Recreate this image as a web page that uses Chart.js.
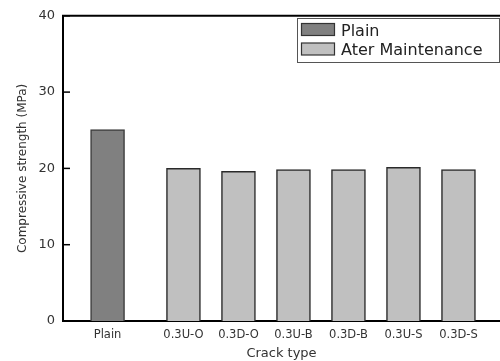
<!DOCTYPE html>
<html>
<head>
<meta charset="utf-8">
<script src="https://cdn.jsdelivr.net/npm/chart.js@4.4.1/dist/chart.umd.min.js"></script>
<style>
  html, body { margin: 0; padding: 0; background: #fff; }
  #wrap { width: 500px; height: 361px; }
</style>
</head>
<body>
<div id="wrap"><canvas id="crackChart" width="500" height="361"></canvas></div>
<script>
// Dados do gráfico
const categories = ["Plain", "0.3U-O", "0.3D-O", "0.3U-B", "0.3D-B", "0.3U-S", "0.3D-S"];
const plainValues = [25.1];
const maintValues = [20.0, 19.6, 19.85, 19.85, 20.15, 19.85];
const yTicks = [0, 10, 20, 30, 40];
const seriesLabels = ["Plain", "Ater Maintenance"];

// Posição no eixo x: "Plain" fica separado das outras barras por um espaço maior
const GAP = 0.38;
const pos = i => (i === 0 ? 0 : i + GAP);

const FONT = "'DejaVu Sans', sans-serif";

// Marcas de escala para dentro, linha superior e legenda com moldura
const framePlugin = {
  id: "frame",
  afterDraw(chart) {
    const ctx = chart.ctx;
    const area = chart.chartArea;
    const y = chart.scales.y;
    ctx.save();
    ctx.strokeStyle = "#000";
    ctx.lineWidth = 2;
    ctx.beginPath();
    ctx.moveTo(area.left - 1, area.top);
    ctx.lineTo(area.right, area.top);
    ctx.stroke();
    ctx.lineWidth = 1.5;
    yTicks.forEach(v => {
      const py = y.getPixelForValue(v);
      ctx.beginPath();
      ctx.moveTo(area.left, py);
      ctx.lineTo(area.left + 7, py);
      ctx.stroke();
    });

    // legenda
    const lx = 297.5, ly = 18.5, lw = 202, lh = 44;
    ctx.lineWidth = 1;
    ctx.strokeStyle = "#555";
    ctx.strokeRect(lx, ly, lw, lh);
    ctx.font = "16px " + FONT;
    ctx.textBaseline = "alphabetic";
    chart.data.datasets.forEach((ds, k) => {
      const sy = ly + 5 + k * 19.5;
      ctx.fillStyle = ds.backgroundColor;
      ctx.fillRect(lx + 4, sy, 33, 12);
      ctx.strokeStyle = "#333";
      ctx.lineWidth = 1.2;
      ctx.strokeRect(lx + 4, sy, 33, 12);
      ctx.fillStyle = "#222";
      ctx.fillText(ds.label, lx + 43.5, sy + 12);
    });
    ctx.restore();
  }
};

const ctx = document.getElementById("crackChart").getContext("2d");
new Chart(ctx, {
  type: "bar",
  data: {
    datasets: [
      {
        label: seriesLabels[0],
        data: plainValues.map((v, k) => ({ x: pos(k), y: v })),
        backgroundColor: "#808080",
        borderColor: "#3c3c3c",
        borderWidth: 1.5,
        barThickness: 34,
        grouped: false
      },
      {
        label: seriesLabels[1],
        data: maintValues.map((v, k) => ({ x: pos(k + 1), y: v })),
        backgroundColor: "#c0c0c0",
        borderColor: "#2a2a2a",
        borderWidth: 1.5,
        barThickness: 34,
        grouped: false
      }
    ]
  },
  options: {
    responsive: false,
    animation: false,
    devicePixelRatio: 1,
    layout: { padding: { top: 14, left: 0, right: 0, bottom: 0 } },
    plugins: {
      legend: { display: false },
      tooltip: { enabled: false }
    },
    scales: {
      x: {
        type: "linear",
        offset: false,
        min: -0.81,
        max: 7.135,
        grid: { display: false, drawTicks: false, offset: false },
        border: { display: true, color: "#000", width: 2 },
        afterBuildTicks: scale => {
          scale.ticks = categories.map((c, i) => ({ value: pos(i) }));
        },
        afterFit: scale => { scale.height = 40; },
        ticks: {
          autoSkip: false,
          maxRotation: 0,
          padding: 7,
          color: "#333",
          font: { family: FONT, size: 11.5 },
          callback: (value, index) => categories[index]
        },
        title: {
          display: true,
          text: "Crack type",
          color: "#333",
          font: { family: FONT, size: 13 },
          padding: { top: 0, bottom: 0 }
        }
      },
      y: {
        min: 0,
        max: 40,
        grid: { display: false, drawTicks: false },
        border: { display: true, color: "#000", width: 2 },
        afterBuildTicks: scale => {
          scale.ticks = yTicks.map(v => ({ value: v }));
        },
        afterFit: scale => { scale.width = 63; },
        ticks: {
          padding: 8,
          color: "#333",
          font: { family: FONT, size: 13 }
        },
        title: {
          display: true,
          text: "Compressive strength (MPa)",
          color: "#333",
          font: { family: FONT, size: 12 },
          padding: { top: 16, bottom: 0 }
        }
      }
    }
  },
  plugins: [framePlugin]
});
</script>
</body>
</html>
